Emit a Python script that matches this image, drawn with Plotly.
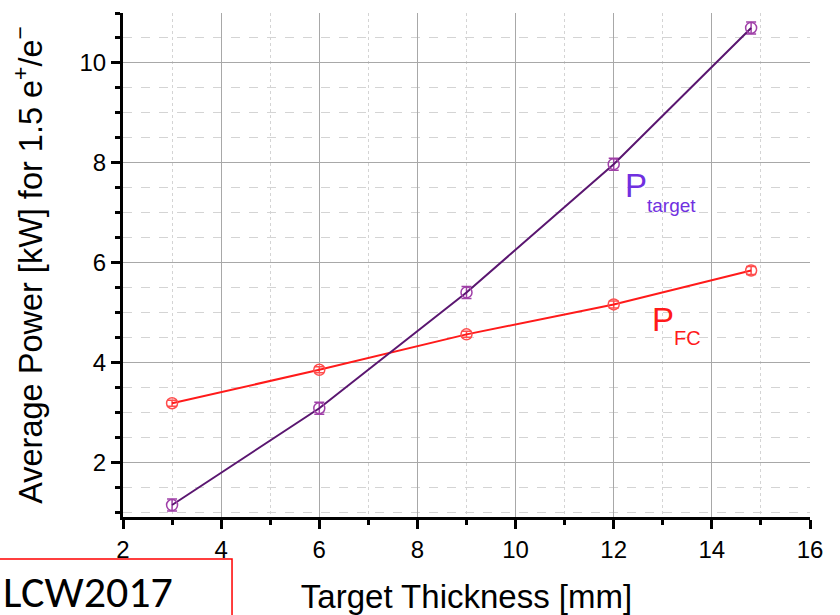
import plotly.graph_objects as go

thickness = [3, 6, 9, 12, 14.8]
p_target = [1.14, 3.08, 5.40, 7.97, 10.70]
p_target_err = [0.12, 0.12, 0.12, 0.12, 0.12]
p_fc = [3.18, 3.85, 4.56, 5.16, 5.84]
p_fc_err = [0.06, 0.06, 0.06, 0.07, 0.08]

x_ticks = [2, 4, 6, 8, 10, 12, 14, 16]
y_ticks = [2, 4, 6, 8, 10]

fig = go.Figure()

fig.add_trace(go.Scatter(
    x=thickness, y=p_fc, mode="lines+markers",
    line=dict(color="#ff1a1a", width=2),
    marker=dict(symbol="circle-open", size=11, color="#ff4d4d", line=dict(width=1.5)),
    error_y=dict(type="data", array=p_fc_err, color="#ff4d4d", thickness=1.5, width=5),
    showlegend=False,
))
fig.add_trace(go.Scatter(
    x=thickness, y=p_target, mode="lines+markers",
    line=dict(color="#5a1670", width=2),
    marker=dict(symbol="circle-open", size=11, color="#a040a8", line=dict(width=1.5)),
    error_y=dict(type="data", array=p_target_err, color="#a040a8", thickness=1.5, width=5),
    showlegend=False,
))

# series labels (main letter + subscript)
fig.add_annotation(x=12.18, y=7.55, xref="x", yref="y", xanchor="left", yanchor="middle",
                   text="P", showarrow=False, font=dict(family="Arial", size=33, color="#7030e0"))
fig.add_annotation(x=12.64, y=7.15, xref="x", yref="y", xanchor="left", yanchor="middle",
                   text="target", showarrow=False, font=dict(family="Arial", size=19, color="#7030e0"))
fig.add_annotation(x=12.73, y=4.86, xref="x", yref="y", xanchor="left", yanchor="middle",
                   text="P", showarrow=False, font=dict(family="Arial", size=33, color="#ff1a1a"))
fig.add_annotation(x=13.18, y=4.49, xref="x", yref="y", xanchor="left", yanchor="middle",
                   text="FC", showarrow=False, font=dict(family="Arial", size=20, color="#ff1a1a"))

# LCW2017 box
fig.add_shape(type="rect", xref="paper", yref="paper",
              x0=-0.19, x1=0.1587, y0=-0.0835, y1=-0.2,
              line=dict(color="#ff0000", width=1.5), fillcolor="white", layer="above")
fig.add_annotation(
    x=-0.178, y=-0.149, xref="paper", yref="paper", xanchor="left", yanchor="middle",
    text="LCW2017", showarrow=False,
    font=dict(family="Carlito, Liberation Sans, Arial", size=44, color="black"),
)

axis_common = dict(
    showline=True, linecolor="black", linewidth=3,
    ticks="outside", ticklen=9, tickwidth=3, tickcolor="black",
    showgrid=True, gridcolor="#a8a8a8", gridwidth=1.2,
    tickfont=dict(family="Arial", size=24, color="black"),
    zeroline=False, automargin=False,
)

fig.update_xaxes(
    range=[2, 16], tickvals=x_ticks, ticktext=[str(v) for v in x_ticks],
    title=dict(text="Target Thickness [mm]", font=dict(family="Arial", size=33, color="black"), standoff=25),
    minor=dict(dtick=1, ticks="outside", ticklen=5, tickwidth=2.5, tickcolor="black",
               showgrid=True, gridcolor="#d4d4d4", griddash="dot", gridwidth=1),
    **axis_common,
)
fig.update_yaxes(
    range=[0.9, 11], tickvals=y_ticks, ticktext=[str(v) for v in y_ticks],
    title=dict(text="Average Power [kW] for 1.5 e<sup>+</sup>/e<sup>−</sup>",
               font=dict(family="Arial", size=32.5, color="black"), standoff=28),
    minor=dict(dtick=0.5, tick0=0, ticks="outside", ticklen=5, tickwidth=2.5, tickcolor="black",
               showgrid=True, gridcolor="#d4d4d4", griddash="dash", gridwidth=1),
    **axis_common,
)

fig.update_layout(
    width=840, height=615,
    margin=dict(l=123, r=30, t=13, b=98),
    plot_bgcolor="white", paper_bgcolor="white",
)

fig.write_html("out.html")
